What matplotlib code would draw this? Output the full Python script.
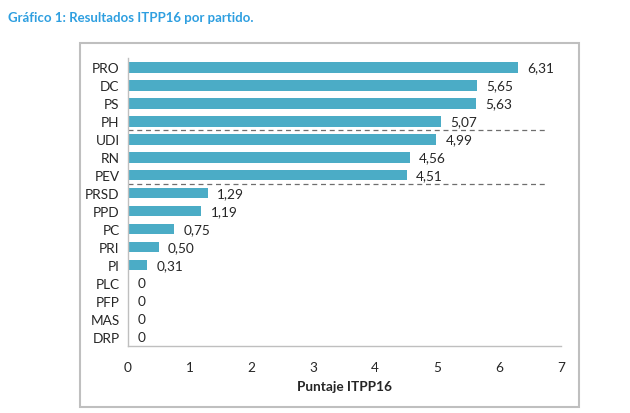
import matplotlib.pyplot as plt
from matplotlib.patches import Rectangle

BAR_COLOR = "#4BACC6"
TITLE_COLOR = "#2E9FE0"
AXIS_COLOR = "#BFBFBF"
TEXT_COLOR = "#262626"

partidos = ["PRO", "DC", "PS", "PH", "UDI", "RN", "PEV", "PRSD", "PPD",
            "PC", "PRI", "PI", "PLC", "PFP", "MAS", "DRP"]
puntajes = [6.31, 5.65, 5.63, 5.07, 4.99, 4.56, 4.51, 1.29, 1.19,
            0.75, 0.50, 0.31, 0, 0, 0, 0]
# separadores entre grupos (entre PH/UDI y PEV/PRSD)
cortes = [3.5, 6.5]
xticks = [0, 1, 2, 3, 4, 5, 6, 7]

plt.rcParams['font.family'] = ['Lato', 'DejaVu Sans']

fig = plt.figure(figsize=(6.3, 4.14), dpi=100)

# marco gris alrededor del grafico
fig.patches.append(Rectangle((0.127, 0.0145), 0.792, 0.879, transform=fig.transFigure,
                             fill=False, edgecolor=AXIS_COLOR, linewidth=1.5))

fig.text(0.013, 0.957, "Gráfico 1: Resultados ITPP16 por partido.", color=TITLE_COLOR,
         fontsize=9.5, fontweight="bold", ha="left", va="center")

ax = fig.add_axes([0.203, 0.162, 0.687, 0.695])
y = list(range(len(partidos)))
ax.barh(y, puntajes, height=0.6, color=BAR_COLOR, zorder=2)

for yi, v in zip(y, puntajes):
    txt = "0" if v == 0 else f"{v:.2f}".replace(".", ",")
    ax.text(v + 0.15, yi, txt, va="center", ha="left", fontsize=9.8, color=TEXT_COLOR)

for c in cortes:
    ax.plot([0, 6.8], [c, c], linestyle=(0, (4, 3)), color="#6E6E6E", linewidth=0.9, zorder=1)

ax.set_xlim(0, 7)
ax.set_ylim(len(partidos) - 0.5, -0.5)
ax.set_yticks(y)
ax.set_yticklabels(partidos)
ax.set_xticks(xticks)
ax.tick_params(axis="both", length=0, labelsize=9.8, colors=TEXT_COLOR)
ax.tick_params(axis="x", pad=11)
ax.tick_params(axis="y", pad=6)

for s in ["top", "right"]:
    ax.spines[s].set_visible(False)
for s in ["left", "bottom"]:
    ax.spines[s].set_color(AXIS_COLOR)
    ax.spines[s].set_linewidth(1.0)

ax.set_xlabel("Puntaje ITPP16", fontsize=9.8, fontweight="bold", color=TEXT_COLOR, labelpad=5)

fig.savefig("out.png", dpi=100)
